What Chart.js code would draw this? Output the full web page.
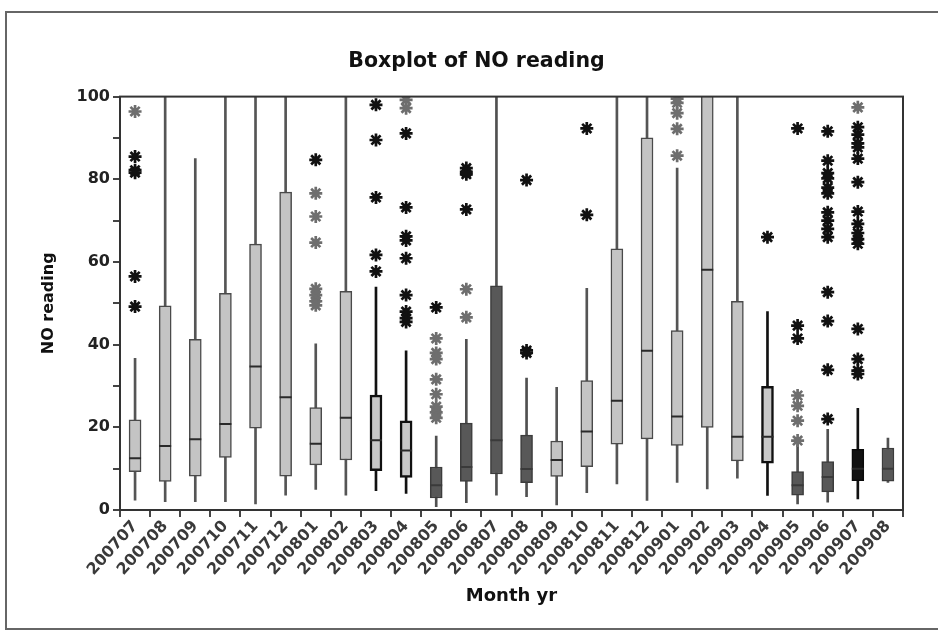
<!DOCTYPE html>
<html>
<head>
<meta charset="utf-8">
<script src="https://cdn.jsdelivr.net/npm/chart.js@4.4.1/dist/chart.umd.min.js"></script>
<style>
  html, body { margin: 0; padding: 0; background: #fff; }
  canvas { display: block; }
</style>
</head>
<body>
<canvas id="noChart" width="938" height="632"></canvas>
<script>
// month labels
var months = ['200707','200708','200709','200710','200711','200712','200801','200802','200803','200804',
              '200805','200806','200807','200808','200809','200810','200811','200812','200901','200902',
              '200903','200904','200905','200906','200907','200908'];

// five number summaries
var whiskerLow  = [2.4, 2.0, 2.0, 2.0, 1.5, 3.6, 5.0, 3.6, 4.7, 4.0, 0.8, 1.8, 3.6, 3.2, 1.2, 4.2, 6.3, 2.3, 6.7, 5.1, 7.7, 3.5, 1.5, 1.9, 2.7, 6.7];
var q1          = [9.3, 6.9, 8.2, 12.7, 19.8, 8.2, 10.9, 12.1, 9.5, 7.9, 2.9, 6.9, 8.7, 6.6, 8.1, 10.5, 15.9, 17.2, 15.6, 20.0, 11.9, 11.3, 3.6, 4.4, 7.1, 7.0];
var medians     = [12.5, 15.5, 17.1, 20.8, 34.7, 27.3, 16.0, 22.3, 16.9, 14.4, 6.0, 10.4, 16.9, 9.9, 12.1, 19.0, 26.4, 38.5, 22.6, 58.1, 17.7, 17.7, 6.0, 8.0, 10.0, 10.0];
var q3          = [21.8, 49.4, 41.3, 52.4, 64.3, 76.9, 24.8, 52.9, 27.8, 21.6, 10.4, 21.0, 54.2, 18.1, 16.7, 31.3, 63.2, 90.0, 43.4, 110, 50.5, 29.9, 9.3, 11.7, 14.7, 15.0];
var whiskerHigh = [36.7, 101, 85.0, 101, 101, 101, 40.2, 101, 53.9, 38.5, 17.9, 41.3, 101, 31.9, 29.7, 53.6, 101, 101, 82.7, 110, 101, 48.0, 15.8, 19.5, 24.6, 17.4];

// outliers (asterisks), black ones and grey ones
var darkOutliers = [
  [85.5, 82.2, 81.6, 56.5, 49.2], [], [], [], [], [],
  [84.7], [],
  [98, 89.5, 75.6, 61.7, 57.7],
  [91.1, 73.2, 66.2, 65.2, 60.9, 52, 48, 46.4, 45.5],
  [49],
  [82.7, 81.8, 81.2, 72.7],
  [],
  [79.8, 38.6, 38],
  [],
  [92.3, 71.4],
  [], [], [], [], [],
  [66],
  [92.3, 44.6, 41.5],
  [91.6, 84.5, 81.5, 80.2, 78, 76.6, 72, 70, 68, 66, 52.7, 45.7, 33.9, 22],
  [92.6, 90.8, 88.7, 87.7, 85, 79.3, 72.2, 69.2, 67, 65.5, 64.4, 43.8, 36.5, 33.7, 32.9],
  []
];
var greyOutliers = [
  [96.4], [], [], [], [], [],
  [76.6, 71, 64.7, 53.5, 52, 50.5, 49.5], [], [],
  [99.2, 97.2],
  [41.5, 38, 36.5, 31.6, 28, 25, 23.6, 22.3],
  [53.4, 46.6],
  [], [], [], [], [], [],
  [99.5, 98.5, 96, 92.2, 85.7],
  [], [], [],
  [27.7, 25.2, 21.6, 16.8],
  [],
  [97.4],
  []
];

// shade of each box: l = light grey, o = light with black outline, d = dark grey, b = black
var boxShade = ['l','l','l','l','l','l','l','l','o','o','d','d','d','d','l','l','l','l','l','l','l','o','d','d','b','d'];

var fills   = { l: '#c4c4c4', o: '#c8c8c8', d: '#585858', b: '#121212' };
var borders = { l: '#4a4a4a', o: '#111111', d: '#3c3c3c', b: '#0a0a0a' };
var whisk   = { l: '#555555', o: '#111111', d: '#505050', b: '#111111' };

function toPoints(list) {
    var pts = [];
    for (var i in list) {
        for (var j in list[i]) {
            pts.push({ x: months[i], y: list[i][j] });
        }
    }
    return pts;
}

var plotFrame = {
    id: 'plotFrame',
    beforeDraw: function (chart) {
        var c = chart.ctx;
        c.save();
        c.fillStyle = '#ffffff';
        c.fillRect(0, 0, chart.width, chart.height);
        c.restore();
    },
    afterDraw: function (chart) {
        var c = chart.ctx, a = chart.chartArea;
        c.save();
        c.strokeStyle = '#333';
        c.lineWidth = 2;
        c.strokeRect(a.left, a.top, a.right - a.left, a.bottom - a.top);
        // outer frame of the figure
        c.strokeStyle = '#666';
        c.beginPath();
        c.moveTo(938, 12); c.lineTo(6, 12); c.lineTo(6, 629); c.lineTo(938, 629);
        c.stroke();
        c.restore();
    }
};

var tickFont = { family: 'DejaVu Sans', size: 16, weight: 'bold' };

new Chart(document.getElementById('noChart'), {
    data: {
        labels: months,
        datasets: [
            {
                type: 'bar',
                label: 'whisker',
                data: months.map(function (m, i) { return [whiskerLow[i], whiskerHigh[i]]; }),
                backgroundColor: boxShade.map(function (s) { return whisk[s]; }),
                barThickness: boxShade.map(function (s) { return (s === 'o' || s === 'b') ? 3 : 2; }),
                grouped: false,
                order: 4
            },
            {
                type: 'bar',
                label: 'box',
                data: months.map(function (m, i) { return [q1[i], q3[i]]; }),
                backgroundColor: boxShade.map(function (s) { return fills[s]; }),
                borderColor: boxShade.map(function (s) { return borders[s]; }),
                borderWidth: boxShade.map(function (s) { return s === 'o' ? 2.5 : 1.5; }),
                borderSkipped: false,
                barThickness: 12,
                grouped: false,
                order: 3
            },
            {
                type: 'line',
                label: 'median',
                data: medians,
                showLine: false,
                pointStyle: 'line',
                pointRadius: 6,
                pointBorderWidth: 2,
                pointBorderColor: boxShade.map(function (s) { return s === 'd' ? '#3a3a3a' : '#2a2a2a'; }),
                order: 2
            },
            {
                type: 'line',
                label: 'outlier',
                data: toPoints(darkOutliers),
                showLine: false,
                pointStyle: 'star',
                pointRadius: 6.5,
                pointBorderWidth: 2.7,
                pointBorderColor: '#111',
                order: 1
            },
            {
                type: 'line',
                label: 'outlier grey',
                data: toPoints(greyOutliers),
                showLine: false,
                pointStyle: 'star',
                pointRadius: 6.5,
                pointBorderWidth: 2.7,
                pointBorderColor: '#6e6e6e',
                order: 1
            }
        ]
    },
    options: {
        responsive: false,
        animation: false,
        events: [],
        layout: { padding: { left: 50, right: 35, top: 12, bottom: 0 } },
        plugins: {
            legend: { display: false },
            tooltip: { enabled: false },
            title: {
                display: true,
                text: 'Boxplot of NO reading',
                color: '#111',
                font: { family: 'DejaVu Sans', size: 20.5, weight: 'bold' },
                padding: { top: 37, bottom: 23 }
            }
        },
        scales: {
            x: {
                type: 'category',
                offset: true,
                afterFit: function (s) { s.height = 122; },
                grid: { drawOnChartArea: false, drawTicks: true, tickLength: 7, color: '#444', lineWidth: 2 },
                border: { color: '#333', width: 2 },
                ticks: { font: tickFont, color: '#3a3a3a', minRotation: 48, maxRotation: 48, padding: 0, autoSkip: false },
                title: {
                    display: true,
                    text: 'Month yr',
                    color: '#111',
                    font: { family: 'DejaVu Sans', size: 18, weight: 'bold' },
                    padding: { top: 0, bottom: 25 }
                }
            },
            y: {
                min: 0,
                max: 100,
                afterFit: function (s) { s.width = 70; },
                grid: { drawOnChartArea: false, drawTicks: true, tickLength: 7, color: '#444', lineWidth: 2 },
                border: { color: '#333', width: 2 },
                ticks: {
                    stepSize: 10,
                    font: tickFont,
                    color: '#222',
                    padding: 3,
                    callback: function (v) { return v % 20 === 0 ? v : ''; }
                },
                title: {
                    display: true,
                    text: 'NO reading',
                    color: '#111',
                    font: { family: 'DejaVu Sans', size: 16, weight: 'bold' },
                    padding: { top: -10.6, bottom: 0 }
                }
            }
        }
    },
    plugins: [plotFrame]
});
</script>
</body>
</html>
